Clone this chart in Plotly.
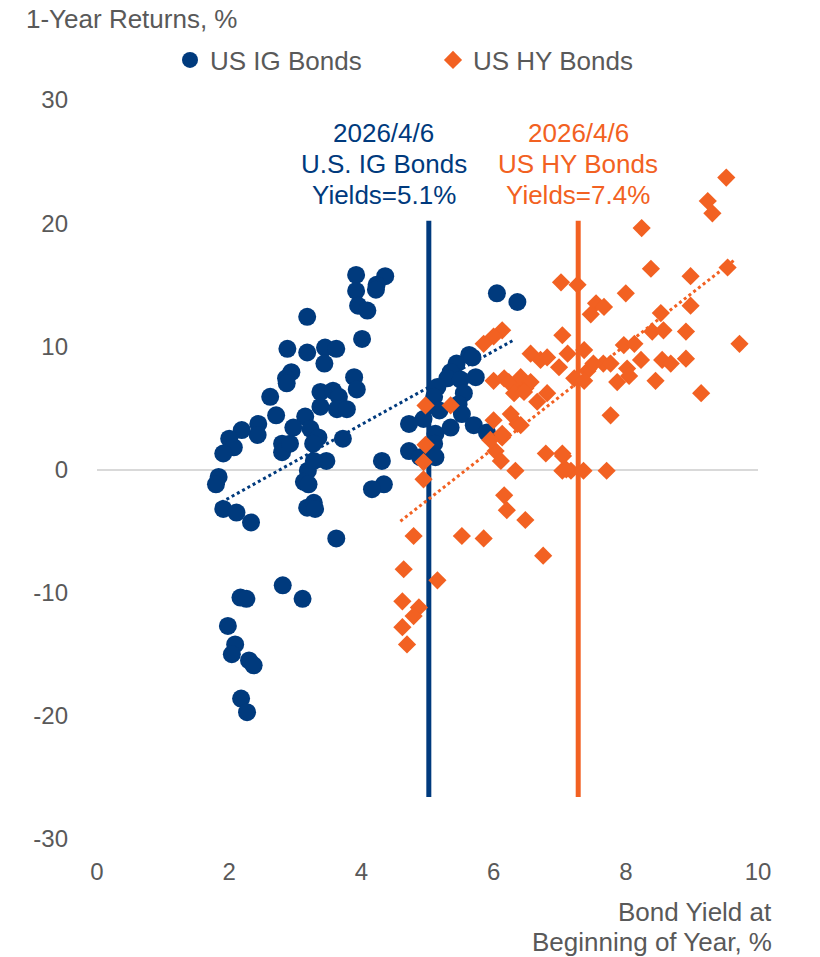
import plotly.graph_objects as go

# ---------------- data ----------------
ig_x = [3.92, 3.92, 4.36, 4.23, 4.22, 3.95, 4.09, 3.18, 4.01, 2.88, 3.18, 3.45, 3.62, 3.44,
        2.94, 2.86, 2.87, 3.89, 3.93, 2.62, 3.38, 3.57, 3.66, 3.38, 3.63, 3.78, 2.71, 3.15,
        2.97, 3.23, 2.44, 2.43, 2.19, 2.00, 2.80, 3.35, 3.72, 2.07, 1.91, 2.80, 2.92, 3.27,
        1.84, 1.80, 3.19, 3.47, 3.28, 3.13, 3.20, 3.18, 3.28, 3.30, 1.91, 2.11, 2.33, 3.62,
        2.81, 2.17, 2.26, 3.11, 1.98, 2.09, 2.04, 2.30, 2.37, 2.18, 2.27,
        6.05, 6.36, 5.63, 5.44, 5.35, 5.73, 5.30, 5.50, 5.55, 5.15, 5.10, 5.47, 5.52, 5.18,
        5.35, 5.70, 4.94, 4.72, 5.12, 5.10, 4.72, 4.89, 5.12, 4.31, 4.34, 4.16, 5.90, 5.68]
ig_y = [15.8, 14.5, 15.7, 15.0, 14.6, 13.3, 12.9, 12.4, 10.6, 9.8, 9.5, 9.9, 9.8, 8.6,
        7.9, 7.4, 7.0, 7.5, 6.5, 5.9, 6.3, 6.4, 5.9, 5.1, 4.9, 4.9, 4.4, 4.3,
        3.4, 3.3, 3.7, 2.8, 3.2, 2.5, 2.1, 2.6, 2.5, 1.8, 1.3, 1.4, 2.1, 2.1,
        -0.6, -1.2, -0.1, 0.7, 0.7, -1.0, -1.2, -3.1, -2.7, -3.2, -3.2, -3.5, -4.3, -5.6,
        -9.4, -10.4, -10.5, -10.5, -12.7, -14.2, -15.0, -15.5, -15.9, -18.6, -19.7,
        14.3, 13.6, 9.3, 8.6, 7.9, 7.5, 7.4, 7.3, 6.2, 6.7, 5.9, 5.3, 4.5, 4.8,
        3.4, 3.6, 4.1, 3.7, 2.9, 2.1, 1.5, 1.0, 1.0, 0.7, -1.2, -1.6, 3.0, 9.1]

hy_x = [4.97, 4.94, 4.94, 4.79, 4.64, 5.15, 4.62, 4.87, 4.79, 4.62, 4.69, 5.52, 5.85,
        6.16, 6.20, 6.48, 6.75, 6.79, 7.04, 7.04, 7.17, 6.03, 6.11, 6.33, 4.97, 5.35,
        6.13, 6.00, 5.85, 6.00, 6.16, 6.36, 6.56, 6.71, 6.48, 6.00, 6.26, 6.36, 6.13,
        5.95, 6.41, 6.23, 6.41, 6.56, 6.31, 6.46, 6.81, 6.66, 6.13,
        8.38, 7.02, 7.27, 8.00, 7.55, 7.67, 7.47, 7.04, 8.53, 8.40, 8.57, 7.12, 7.37,
        6.99, 6.81, 7.97, 8.13, 8.23, 8.55, 7.66, 7.77, 8.02, 7.22, 7.42, 7.87, 8.05,
        8.45, 7.77, 9.52, 9.24, 9.31, 8.24, 9.54, 8.98, 8.98, 9.72, 8.91, 8.68, 8.91,
        9.14, 7.51, 7.37, 7.10, 7.36, 7.71, 7.05]
hy_y = [2.0, 0.6, -0.8, -5.4, -8.1, -9.0, -10.7, -11.2, -11.9, -12.8, -14.2, -5.4, -5.6,
        -2.1, -3.3, -4.1, -7.0, 1.3, 1.3, -0.1, -0.1, 1.5, 0.7, -0.1, 5.2, 5.2,
        11.3, 10.8, 10.2, 7.2, 7.4, 7.1, 9.4, 8.9, 6.6, 4.0, 4.5, 3.7, 2.6,
        2.4, 3.6, 7.1, 7.5, 7.1, 6.2, 6.3, 6.2, 5.5, 2.9,
        16.3, 15.2, 15.0, 14.3, 13.5, 13.2, 12.6, 10.9, 12.7, 11.2, 11.3, 9.4, 9.7,
        8.3, 9.1, 10.1, 10.2, 8.9, 8.9, 8.6, 8.6, 8.2, 7.4, 8.0, 7.1, 7.6,
        7.2, 4.4, 23.7, 21.8, 20.8, 19.6, 16.4, 15.7, 13.3, 10.2, 11.2, 8.6, 9.0,
        6.2, 8.6, 7.2, 0.0, -0.1, -0.1, 1.1]

ig_trend_x = [1.80, 6.30]
ig_trend_y = [-2.9, 10.5]
hy_trend_x = [4.59, 9.64]
hy_trend_y = [-4.2, 17.0]

ig_yield_now = 5.02
hy_yield_now = 7.28
marker_line_y = [-26.6, 20.2]

x_ticks = [0, 2, 4, 6, 8, 10]
y_ticks = [-30, -20, -10, 0, 10, 20, 30]

BLUE = "#003A7D"
ORANGE = "#F26122"
GREY = "#595959"
FONT = "Liberation Sans, Arial, sans-serif"

fig = go.Figure()

# vertical "current yield" lines
fig.add_trace(go.Scatter(x=[ig_yield_now, ig_yield_now], y=marker_line_y, mode="lines",
                         line=dict(color=BLUE, width=5), showlegend=False, hoverinfo="skip"))
fig.add_trace(go.Scatter(x=[hy_yield_now, hy_yield_now], y=marker_line_y, mode="lines",
                         line=dict(color=ORANGE, width=5), showlegend=False, hoverinfo="skip"))

# trend lines
fig.add_trace(go.Scatter(x=ig_trend_x, y=ig_trend_y, mode="lines",
                         line=dict(color=BLUE, width=3, dash="dot"), showlegend=False, hoverinfo="skip"))
fig.add_trace(go.Scatter(x=hy_trend_x, y=hy_trend_y, mode="lines",
                         line=dict(color=ORANGE, width=3, dash="dot"), showlegend=False, hoverinfo="skip"))

fig.add_trace(go.Scatter(x=ig_x, y=ig_y, mode="markers", name="US IG Bonds",
                         marker=dict(symbol="circle", size=18, color=BLUE, line=dict(width=0))))
fig.add_trace(go.Scatter(x=hy_x, y=hy_y, mode="markers", name="US HY Bonds",
                         marker=dict(symbol="diamond", size=14, color=ORANGE, line=dict(width=0))))

ann = []
for i, t in enumerate(["2026/4/6", "U.S. IG Bonds", "Yields=5.1%"]):
    ann.append(dict(x=4.34, y=27.3 - i * 2.5, xref="x", yref="y", text=t, showarrow=False,
                    font=dict(size=26, color=BLUE, family=FONT), xanchor="center", yanchor="middle"))
for i, t in enumerate(["2026/4/6", "US HY Bonds", "Yields=7.4%"]):
    ann.append(dict(x=7.28, y=27.3 - i * 2.5, xref="x", yref="y", text=t, showarrow=False,
                    font=dict(size=26, color=ORANGE, family=FONT), xanchor="center", yanchor="middle"))
# pixel-placed texts (window pixel coords)
ann.append(dict(x=25, y=19, xref="paper", yref="paper", text="1-Year Returns, %", showarrow=False,
                font=dict(size=26, color=GREY, family=FONT), xanchor="left", yanchor="middle",
                borderpad=0))
for i, t in enumerate(["Bond Yield at", "Beginning of Year, %"]):
    ann.append(dict(x=773, y=912 + 30 * i, xref="paper", yref="paper", text=t, showarrow=False,
                    font=dict(size=26, color=GREY, family=FONT), xanchor="right", yanchor="middle",
                    borderpad=0))

# page has an 8px body margin; figure sized to fit the 820x957 window
OFF = 8
W, H = 820 - OFF, 957 - OFF
L, R, T, B = 97 - OFF, W - (758 - OFF), 100 - OFF, H - (839 - OFF)
pw, ph = W - L - R, H - T - B
for a in ann:
    if a["xref"] == "paper":
        a["x"] = (a["x"] - OFF - L) / pw
        a["y"] = 1 - (a["y"] - OFF - T) / ph

fig.update_layout(
    width=W, height=H,
    margin=dict(l=L, r=R, t=T, b=B, pad=0),
    paper_bgcolor="white", plot_bgcolor="white",
    font=dict(family=FONT, size=24, color=GREY),
    showlegend=True,
    legend=dict(orientation="h", x=(170 - OFF - L) / pw, y=1 + (T - (60 - OFF)) / ph,
                xanchor="left", yanchor="middle",
                font=dict(size=26, color=GREY, family=FONT), entrywidth=218, entrywidthmode="pixels",
                bgcolor="rgba(0,0,0,0)", itemclick=False),
    annotations=ann,
    xaxis=dict(range=[0, 10], tickvals=x_ticks, ticktext=[str(v) for v in x_ticks],
               showgrid=False, zeroline=False, showline=False, ticks="",
               ticklabelstandoff=16, tickfont=dict(size=24, color=GREY)),
    yaxis=dict(range=[-30, 30], tickvals=y_ticks, ticktext=[str(v) for v in y_ticks],
               showgrid=False, zeroline=True, zerolinecolor="#D9D9D9", zerolinewidth=2,
               showline=False, ticks="", ticklabelstandoff=28, tickfont=dict(size=24, color=GREY)),
)

fig.write_html("out.html")
